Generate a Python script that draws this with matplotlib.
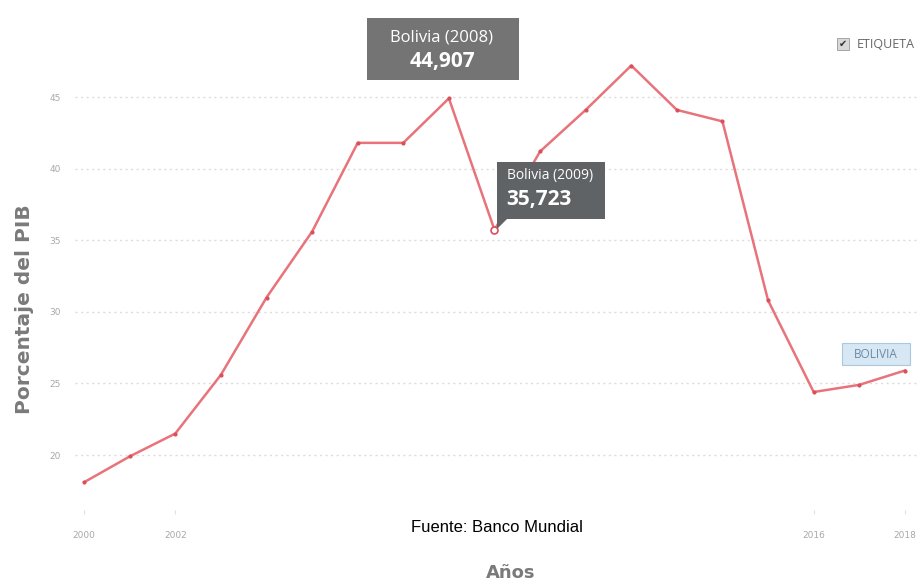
import matplotlib.pyplot as plt
from matplotlib.patches import Polygon, Rectangle

# datos: deuda / porcentaje del PIB, Bolivia
years = [2000, 2001, 2002, 2003, 2004, 2005, 2006, 2007, 2008, 2009,
         2010, 2011, 2012, 2013, 2014, 2015, 2016, 2017, 2018]
values = [18.1, 19.9, 21.5, 25.6, 31.0, 35.6, 41.8, 41.8, 44.907, 35.723,
          41.2, 44.1, 47.2, 44.1, 43.3, 30.8, 24.4, 24.9, 25.9]
xtick_years = [2000, 2002, 2016, 2018]
ytick_vals = [20, 25, 30, 35, 40, 45]

W, H = 919, 582
LINE = '#e8737a'
GRAY_TXT = '#a8a8a8'


def px(x, y):
    """pixel (desde arriba-izquierda) -> coordenadas de figura"""
    return x / W, 1 - y / H


def caja(x0, y0, x1, y1, **kw):
    a, b = px(x0, y1)
    c, d = px(x1, y0)
    fig.patches.append(Rectangle((a, b), c - a, d - b, transform=fig.transFigure,
                                 zorder=10, **kw))


fig = plt.figure(figsize=(W / 100, H / 100), dpi=100)
ax = fig.add_axes([75 / W, 1 - 510 / H, (W - 75) / W, 490 / H])

ax.plot(years, values, color=LINE, linewidth=1.8, zorder=3)
ax.plot(years, values, linestyle='none', marker='o', markersize=2,
        color='#d9505a', zorder=4)
# punto resaltado 2009
ax.plot([2009], [values[9]], marker='o', markersize=5, markerfacecolor='white',
        markeredgecolor='#d9505a', markeredgewidth=1.2, zorder=5)

ax.set_xlim(1999.80, 2018.31)
ax.set_ylim(16.16, 50.38)

ax.set_yticks(ytick_vals)
ax.set_yticklabels([str(v) for v in ytick_vals], fontsize=6.5, color=GRAY_TXT)
ax.set_xticks(xtick_years)
ax.set_xticklabels([str(v) for v in xtick_years], fontsize=6.5, color=GRAY_TXT)
ax.tick_params(axis='y', length=0, pad=10)
ax.tick_params(axis='x', length=3, color='#e0e0e0', pad=12)
ax.grid(axis='y', color='#dcdcdc', linestyle=(0, (1.5, 2.5)), linewidth=1)
for s in ax.spines.values():
    s.set_visible(False)

# etiquetas de ejes
fig.text(*px(25, 309), 'Porcentaje del PIB', rotation=90, ha='center', va='center',
         fontsize=14.5, fontweight='bold', color='#7a7a7a', family='DejaVu Sans')
fig.text(*px(511, 573), 'Años', ha='center', va='center',
         fontsize=13, fontweight='bold', color='#7a7a7a', family='DejaVu Sans')
fig.text(*px(497, 527), 'Fuente: Banco Mundial', ha='center', va='center',
         fontsize=12, color='black', family='Liberation Sans')

# tooltip 2008
caja(367, 18, 519, 80, facecolor='#747474', edgecolor='none')
fig.text(*px(442, 37), 'Bolivia (2008)', ha='center', va='center', fontsize=12,
         color='white', family='Open Sans', zorder=11)
fig.text(*px(442, 62), '44,907', ha='center', va='center', fontsize=15,
         fontweight='bold', color='white', family='Open Sans', zorder=11)

# tooltip 2009
caja(497, 162, 605, 219, facecolor='#5f6366', edgecolor='none')
fig.patches.append(Polygon([px(497, 219), px(507, 219), px(497, 229)],
                           closed=True, transform=fig.transFigure,
                           facecolor='#5f6366', edgecolor='none', zorder=10))
fig.text(*px(507, 176), 'Bolivia (2009)', ha='left', va='center', fontsize=10,
         color='white', family='Open Sans', zorder=11)
fig.text(*px(506, 199), '35,723', ha='left', va='center', fontsize=15,
         fontweight='bold', color='white', family='Open Sans', zorder=11)

# etiqueta de serie
caja(842, 343, 910, 365, facecolor='#d7e7f3', edgecolor='#aac8df', linewidth=0.8)
fig.text(*px(876, 354), 'BOLIVIA', ha='center', va='center', fontsize=8.5,
         color='#6a8aa6', family='Open Sans', zorder=11)

# casilla ETIQUETA
caja(837, 38, 849, 50, facecolor='#d9d9d9', edgecolor='#999999', linewidth=0.6)
fig.text(*px(843, 44), '✔', ha='center', va='center', fontsize=7,
         color='#333333', family='DejaVu Sans', zorder=11)
fig.text(*px(857, 44), 'ETIQUETA', ha='left', va='center', fontsize=9,
         color='#666666', family='Open Sans', zorder=11)

fig.savefig('out.png', dpi=100)
